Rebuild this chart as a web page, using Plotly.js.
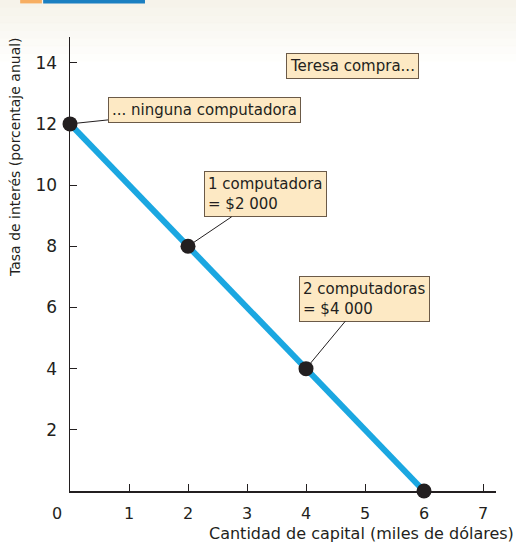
<!DOCTYPE html>
<html>
<head>
<meta charset="utf-8">
<script src="https://cdn.plot.ly/plotly-3.0.1.min.js"></script>
<style>
  html, body { margin: 0; padding: 0; background: #ffffff; }
  #chart { width: 516px; height: 551px; }
</style>
</head>
<body>
<div id="chart"></div>
<script>
// Datos: cantidad de capital (miles de dólares) vs tasa de interés (%)
const CAPITAL = [0, 2, 4, 6];
const TASA = [12, 8, 4, 0];
const X_TICKS = [1, 2, 3, 4, 5, 6, 7];
const Y_TICKS = [2, 4, 6, 8, 10, 12, 14];

// Etiquetas de los puntos (índice del punto, texto)
const ETIQUETAS = [
  [0, "... ninguna computadora"],
  [1, "1 computadora<br>= $2 000"],
  [2, "2 computadoras<br>= $4 000"]
];
// desplazamiento de cada caja respecto de su punto (px)
const DESPLAZ = [[134, -14], [77, -52], [58, -70]];

const FUENTE = "DejaVu Sans";
const CAJA = { bgcolor: "#fde9c4", bordercolor: "#6b5a48", borderwidth: 1, borderpad: 3 };

const curva = {
  x: CAPITAL,
  y: TASA,
  mode: "lines+markers",
  type: "scatter",
  line: { color: "#1ba7e1", width: 6 },
  marker: { color: "#231f20", size: 15 },
  cliponaxis: false,
  hoverinfo: "none"
};

const anotaciones = ETIQUETAS.map(function (e, i) {
  return Object.assign({
    x: CAPITAL[e[0]], y: TASA[e[0]],
    text: e[1], align: "left",
    showarrow: true, arrowhead: 0, arrowwidth: 1, arrowcolor: "#231f20",
    ax: DESPLAZ[i][0], ay: DESPLAZ[i][1],
    font: { family: FUENTE, size: 15, color: "#231f20" }
  }, CAJA);
});

anotaciones.push(Object.assign({
  x: 4.79, y: 13.9, text: "Teresa compra...", showarrow: false,
  font: { family: FUENTE, size: 15, color: "#231f20" }
}, CAJA));

// "0" compartido en el origen
anotaciones.push({
  xref: "paper", yref: "paper", x: 0, y: 0, xanchor: "center", yanchor: "middle",
  xshift: -13, yshift: -22,
  text: "0", showarrow: false,
  font: { family: FUENTE, size: 16, color: "#231f20" }
});

// títulos de ejes
anotaciones.push({
  xref: "paper", yref: "paper", x: 1, xanchor: "right", y: 0, yanchor: "top", yshift: -31, xshift: 20,
  text: "Cantidad de capital (miles de dólares)", showarrow: false,
  font: { family: FUENTE, size: 16, color: "#231f20" }
});
anotaciones.push({
  xref: "paper", yref: "paper", x: 0, xanchor: "center", xshift: -55, y: 1, yanchor: "top", yshift: 2,
  textangle: -90, text: "Tasa de interés (porcentaje anual)", showarrow: false,
  font: { family: FUENTE, size: 14, color: "#231f20" }
});

// fondo degradado en la parte superior y pestaña
const formas = [];
const bandas = 8;
for (let k = 0; k < bandas; k++) {
  formas.push({
    type: "rect", xref: "paper", yref: "paper", layer: "below",
    x0: -0.3, x1: 1.2, y0: 1.0815 - (k + 1) * 0.017, y1: 1.0815 - k * 0.017 + 0.001,
    fillcolor: "#f5f2e8", opacity: 0.9 * (1 - k / bandas), line: { width: 0 }
  });
}
formas.push({
  type: "rect", xref: "paper", yref: "paper", x0: -0.117, x1: -0.066, y0: 1.074, y1: 1.09,
  fillcolor: "#f7ae62", line: { width: 0 }
});
formas.push({
  type: "rect", xref: "paper", yref: "paper", x0: -0.063, x1: 0.176, y0: 1.074, y1: 1.09,
  fillcolor: "#1b7fc1", line: { width: 0 }
});

const layout = {
  width: 516, height: 551,
  margin: { l: 70, r: 20, t: 37, b: 60 },
  paper_bgcolor: "#ffffff",
  plot_bgcolor: "rgba(0,0,0,0)",
  showlegend: false,
  font: { family: FUENTE, size: 16, color: "#231f20" },
  xaxis: {
    range: [0, 7.22], tickvals: X_TICKS, ticks: "inside", ticklen: 7, tickcolor: "#231f20",
    showgrid: false, zeroline: false, showline: true, linecolor: "#231f20", linewidth: 1.5,
    ticklabelstandoff: 7, tickfont: { size: 16 }, fixedrange: true
  },
  yaxis: {
    range: [0, 14.84], tickvals: Y_TICKS, ticks: "inside", ticklen: 7, tickcolor: "#231f20",
    showgrid: false, zeroline: false, showline: true, linecolor: "#231f20", linewidth: 1.5,
    ticklabelstandoff: 8, tickfont: { size: 17 }, fixedrange: true
  },
  annotations: anotaciones,
  shapes: formas
};

Plotly.newPlot("chart", [curva], layout, { displayModeBar: false, staticPlot: true });
</script>
</body>
</html>
